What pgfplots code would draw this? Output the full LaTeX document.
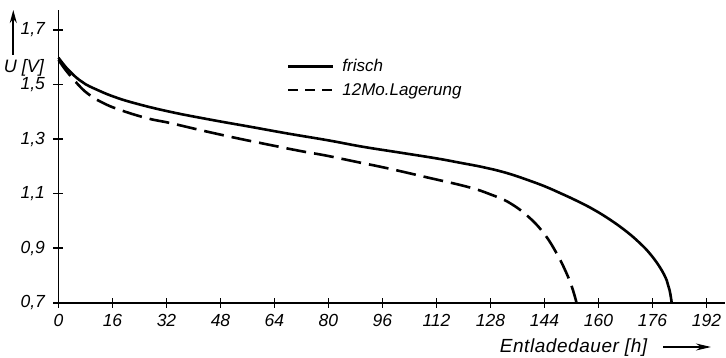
\documentclass[border=0pt]{standalone}
\usepackage{fontspec}
\setmainfont{Liberation Sans}
\usepackage{pgfplots}
\pgfplotsset{compat=1.18}
\usetikzlibrary{arrows.meta}
\begin{document}
\begin{tikzpicture}[x=1pt,y=1pt]
\path[use as bounding box] (-58.5,-55.3) rectangle (667.5,302.7);
\begin{axis}[
  scale only axis, width=666.5pt, height=292.7pt,
  xmin=0, xmax=197.5, ymin=0.7, ymax=1.773,
  axis lines=left, axis line style={-, line width=1.7pt},
  xtick={0,16,...,192}, ytick={0.7,0.9,1.1,1.3,1.5,1.7},
  tick align=center, major tick length=10pt, tick style={line width=1.7pt, black},
  /pgf/number format/assume math mode=true,
  ticklabel style={font=\itshape\fontsize{17.5}{20}\selectfont},
  yticklabel style={xshift=-5pt, /pgf/number format/.cd, use comma, fixed, fixed zerofill, precision=1},
  xticklabel style={yshift=-3pt, /pgf/number format/.cd, fixed, precision=0},
  legend style={draw=none, fill=none, at={(axis cs:67.6,1.523)}, anchor=west,
    font=\itshape\fontsize{17}{20}\selectfont, row sep=10pt, column sep=8pt,
    inner sep=0pt, nodes={inner sep=0pt}},
  legend cell align=left,
  clip=false,
]
\addplot[black, line width=2.6pt, smooth, tension=0.7,
  legend image code/.code={\draw[black, line width=2.6pt] (0pt,0pt) -- (45pt,0pt);}]
  coordinates {
  (0,1.598) (2,1.566) (4,1.540) (6,1.518) (8,1.501) (10.8,1.484) (16,1.457)
  (22.7,1.431) (33,1.400) (45,1.371) (56.8,1.345) (68,1.320) (80,1.295)
  (90,1.272) (101.3,1.250) (112,1.229) (119,1.213) (125,1.199) (129,1.188)
  (134,1.171) (139,1.150) (144,1.127) (148.8,1.101) (153.5,1.074)
  (158.5,1.042) (163.6,1.003) (168.4,0.960) (172.3,0.918) (175.3,0.879)
  (178.2,0.830) (180.2,0.783) (181.1,0.745) (181.7,0.700)
  };
\addlegendentry{frisch}
\addplot[black, line width=2.6pt, dash pattern=on 20pt off 8pt, smooth, tension=0.7,
  legend image code/.code={\draw[black, line width=2.6pt, dash pattern=on 10pt off 7pt] (0pt,0pt) -- (45pt,0pt);}]
  coordinates {
  (0,1.590) (2,1.555) (4,1.525) (6,1.497) (7.9,1.474) (10,1.455) (12,1.440)
  (16.8,1.413) (25.7,1.378) (33.3,1.358) (43,1.330) (52.9,1.303) (62,1.280)
  (71.7,1.256) (79,1.240) (88,1.217) (97.4,1.193) (109,1.160) (121.1,1.125)
  (127.8,1.098) (133.8,1.065) (139.7,1.010) (144.2,0.948) (147.6,0.881)
  (150.1,0.820) (152.1,0.759) (153.5,0.700)
  };
\addlegendentry{12Mo.Lagerung}
\end{axis}
\node[font=\itshape\fontsize{18}{21}\selectfont] at (-34.5,234.7) {U [V]};
\draw[line width=1.7pt, -{Stealth[length=13pt,width=7pt]}] (-45.2,247.7) -- (-45.2,292.7);
\node[font=\itshape\fontsize{19}{22}\selectfont\addfontfeature{LetterSpace=3}] at (515,-45.3) {Entladedauer [h]};
\draw[line width=1.7pt, -{Stealth[length=15pt,width=7pt]}] (604.5,-44.3) -- (652.5,-44.3);
\end{tikzpicture}
\end{document}
